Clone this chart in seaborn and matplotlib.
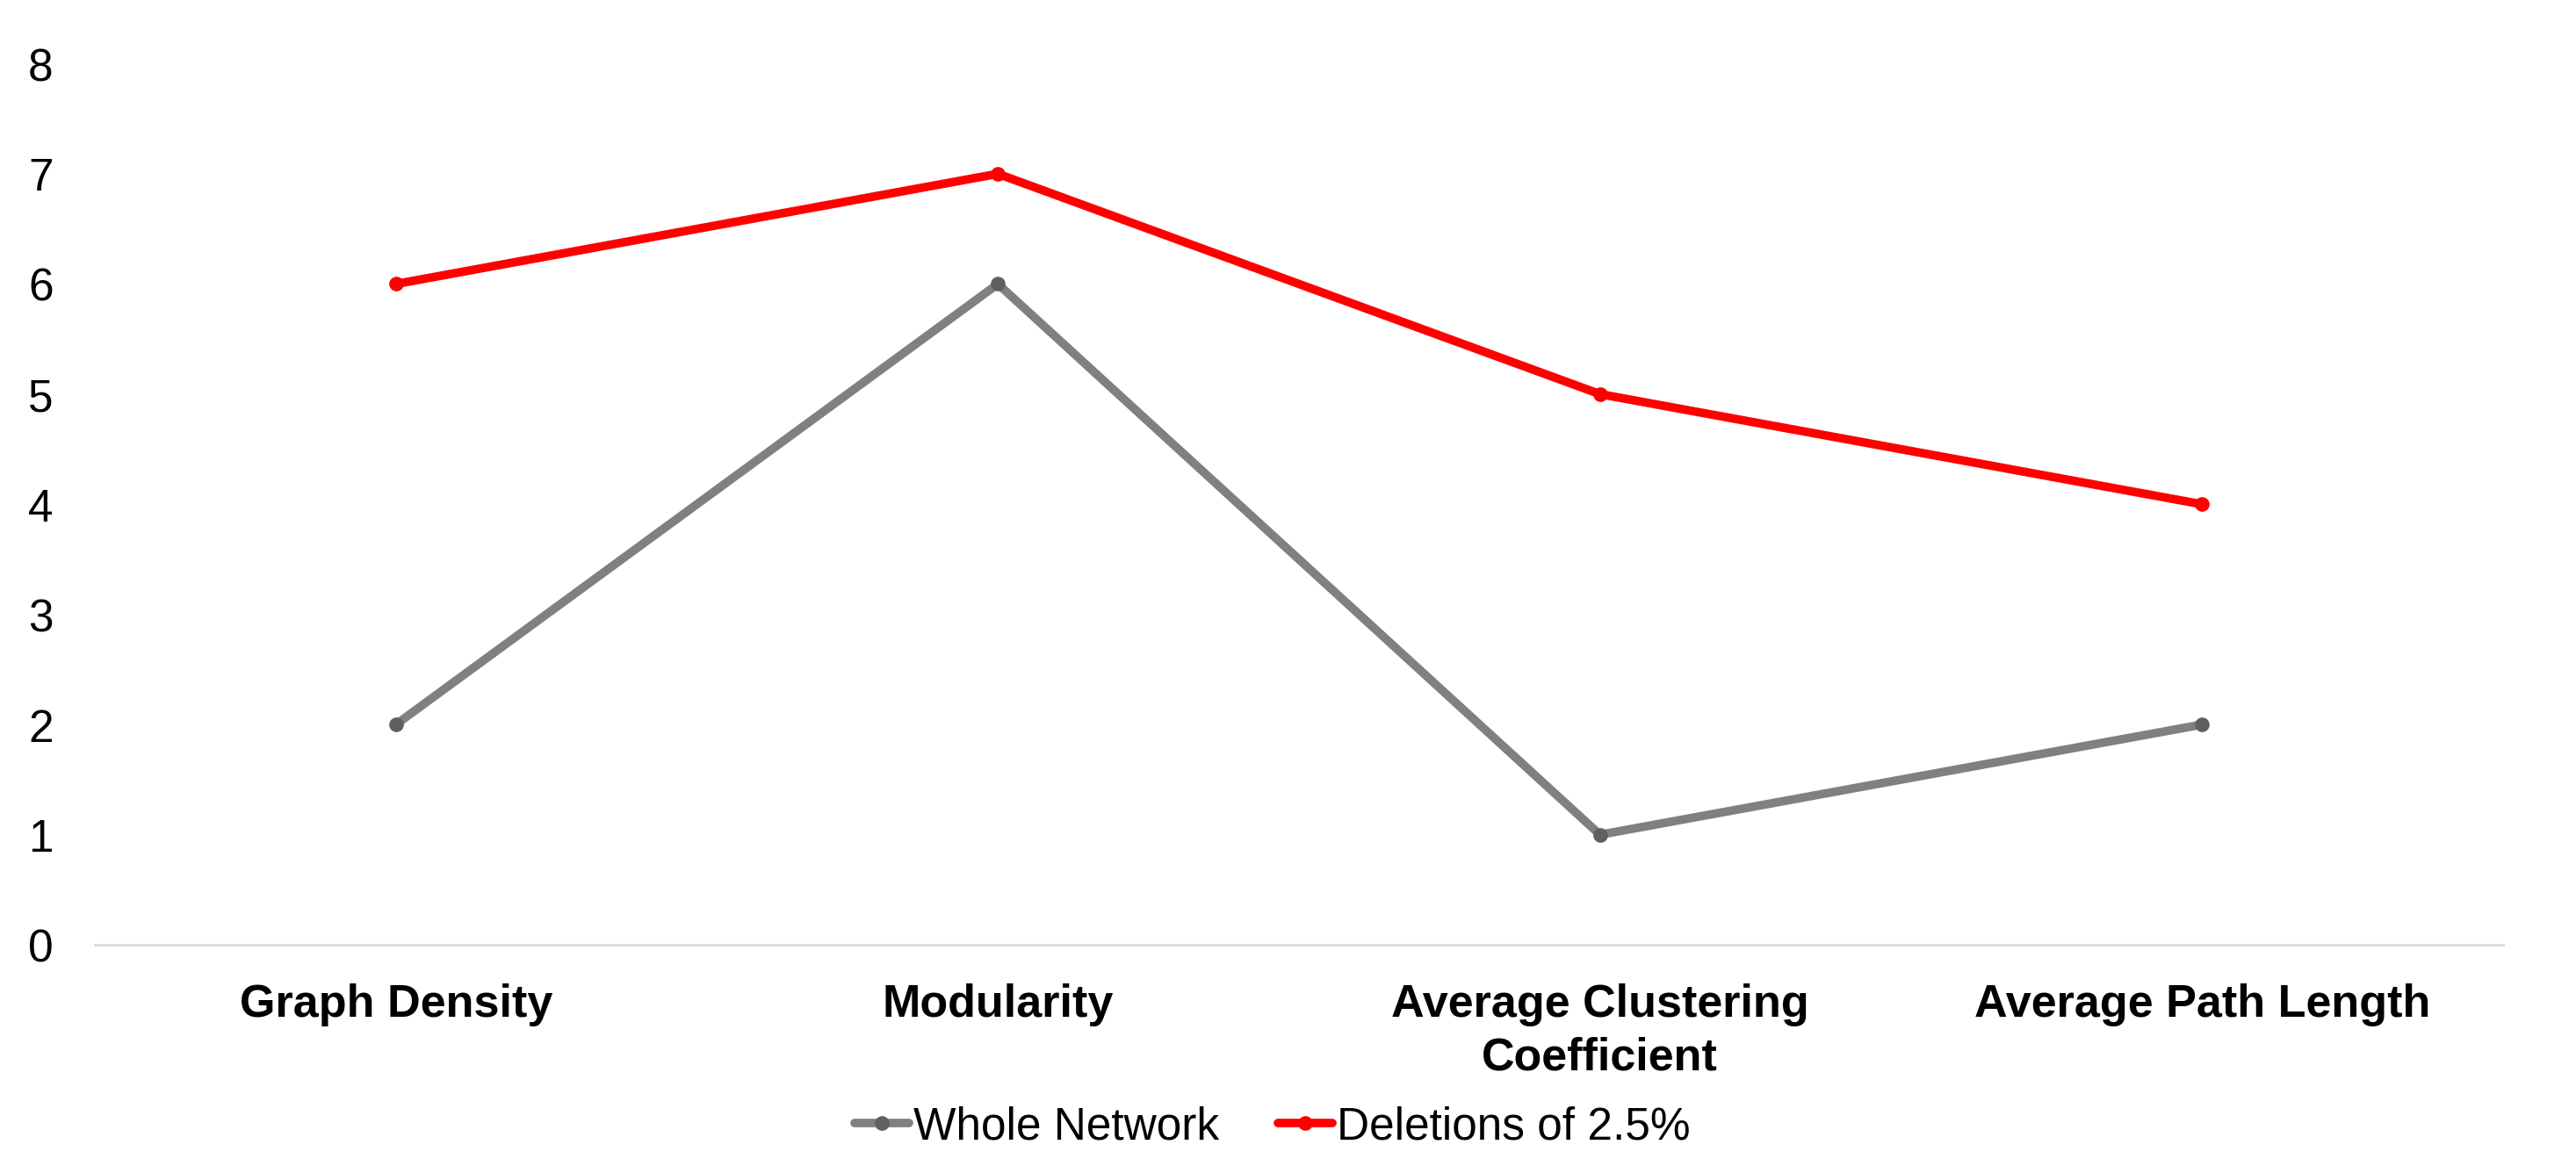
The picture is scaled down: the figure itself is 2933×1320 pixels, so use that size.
import matplotlib
matplotlib.use("Agg")
import matplotlib.pyplot as plt
import seaborn as sns
import pandas as pd

# Network metrics, compared for the whole network and after 2.5% deletions
categories = ["Graph Density", "Modularity", "Average Clustering\nCoefficient", "Average Path Length"]
whole_network = [2, 6, 1, 2]
deletions_2_5 = [6, 7, 5, 4]
series_names = ["Whole Network", "Deletions of 2.5%"]
y_ticks = [0, 1, 2, 3, 4, 5, 6, 7, 8]

df = pd.concat([
    pd.DataFrame({"metric": categories, "value": whole_network, "series": series_names[0]}),
    pd.DataFrame({"metric": categories, "value": deletions_2_5, "series": series_names[1]}),
], ignore_index=True)

sns.set_theme(style="white")
plt.rcParams["font.family"] = ["Liberation Sans", "DejaVu Sans"]
plt.rcParams["text.color"] = "black"

fig = plt.figure(figsize=(29.33, 13.205), dpi=100)
ax = fig.add_axes([0.0368, 0.1847, 0.9349, 0.760])

palette = {series_names[0]: "#808080", series_names[1]: "#ff0000"}
sns.lineplot(data=df, x="metric", y="value", hue="series", palette=palette,
             marker="o", markersize=12, markeredgewidth=0, linewidth=7,
             sort=False, legend=False, ax=ax)

# darker dots on the grey series
lines = ax.get_lines()
lines[0].set_markerfacecolor("#606060")
lines[0].set_markeredgecolor("#606060")
for ln in lines:
    ln.set_solid_capstyle("round")
    ln.set_solid_joinstyle("round")

ax.set_xlim(-0.5, len(categories) - 0.5)
ax.set_ylim(0, 8)
ax.set_yticks(y_ticks)
ax.set_yticklabels([str(t) for t in y_ticks], fontsize=37, color="black")
ax.set_xticks(range(len(categories)))
ax.set_xticklabels(categories, fontsize=37.5, fontweight="bold", color="black",
                   linespacing=1.3, va="top")
ax.tick_params(axis="y", length=0, pad=34)
ax.tick_params(axis="x", length=0, pad=31)
ax.set_xlabel("")
ax.set_ylabel("")

for side in ["top", "right", "left"]:
    ax.spines[side].set_visible(False)
ax.spines["bottom"].set_color("#d9d9d9")
ax.spines["bottom"].set_linewidth(2)

leg = fig.legend(handles=lines[:2], labels=series_names, loc="center",
                 bbox_to_anchor=(0.494, 0.028), ncol=2, frameon=False, fontsize=37,
                 handlelength=1.2, handletextpad=0.1, columnspacing=1.3)
for txt in leg.get_texts():
    txt.set_color("black")

fig.savefig("out.png", dpi=100, facecolor="white")
